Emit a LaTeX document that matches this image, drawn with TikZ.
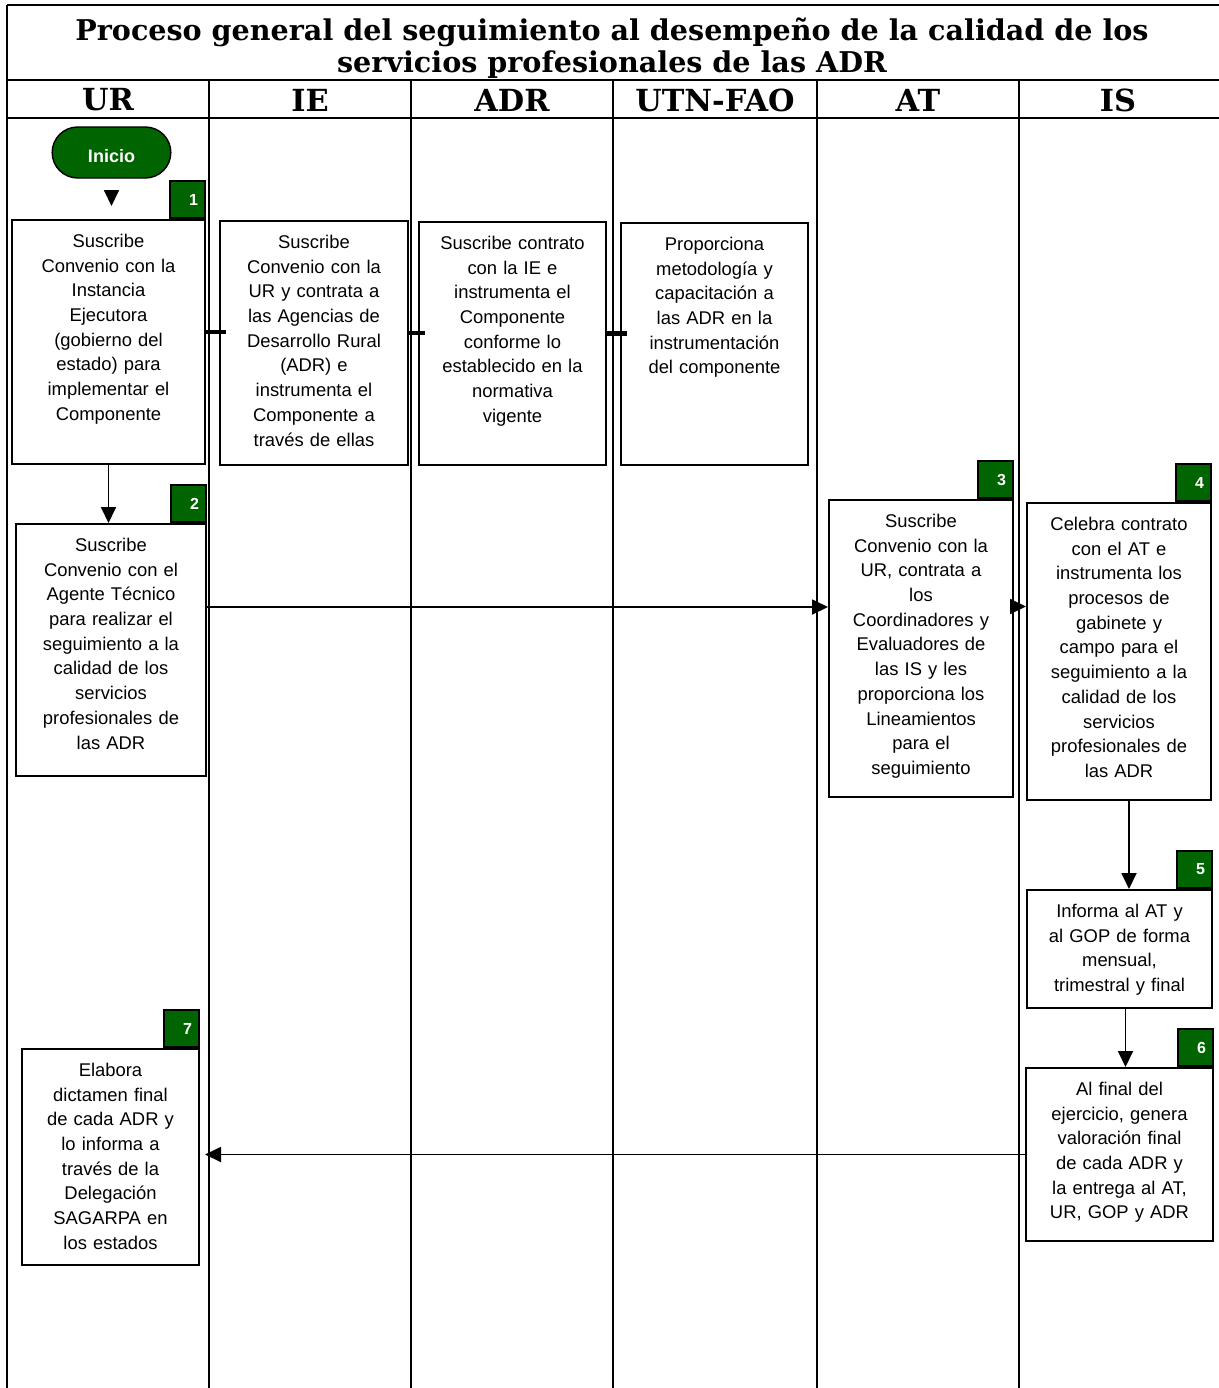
\documentclass[tikz,border=0pt]{standalone}
\usepackage{fontspec}
\setmainfont{Liberation Sans}
\newfontfamily\titlefont{DejaVu Serif}
\usepackage{tikz}
\usetikzlibrary{arrows.meta,positioning,shapes.misc}
\definecolor{verde}{RGB}{0,100,0}

\tikzset{
  lane/.style={line width=1pt},
  stepbox/.style={draw, line width=1pt, anchor=north west, align=center,
    text width=80pt, text height=6.7pt, inner xsep=2pt, inner ysep=7pt,
    font=\fontsize{9.2}{12.35}\selectfont},
  badge/.style={draw, line width=1pt, fill=verde, text=white, anchor=south east,
    minimum width=17.5pt, minimum height=18.5pt, inner sep=0pt,
    text width=10.5pt, align=right, font=\fontsize{8}{9}\selectfont\bfseries},
  flow/.style={line width=0.9pt, -{Triangle[length=8pt,width=7.5pt]}},
  tick/.style={line width=2.2pt, shorten <=-1pt, shorten >=-3.5pt},
  headtext/.style={font=\titlefont\bfseries\fontsize{14.3}{16}\selectfont, align=center},
  lanename/.style={font=\titlefont\bfseries\fontsize{15.2}{17}\selectfont}
}

\begin{document}
\begin{tikzpicture}[x=0.5pt, y=-0.5pt]
  \useasboundingbox (0,0) rectangle (1219,1388);

  % Lanes
  \draw[lane] (7,5) -- (1230,5);
  \draw[lane] (7,80) -- (1230,80);
  \draw[lane] (7,118) -- (1230,118);
  \draw[lane] (7,5) -- (7,1388);
  \foreach \x in {209,411,613,817,1019}
    \draw[lane] (\x,80) -- (\x,1388);

  \node[headtext] (titulo) at (612,48) {Proceso general del seguimiento al desempeño de la calidad de los\\servicios profesionales de las ADR};
  \foreach \x/\t [count=\i] in {108/UR,310/IE,512/ADR,715/UTN-FAO,918/AT,1118/IS}
    \node[lanename] (h\i) at (\x,100) {\t};

  % Nodes
  \node[draw, line width=0.7pt, fill=verde, rounded rectangle, minimum width=66pt,
    minimum height=25.5pt, text height=10pt, text depth=0pt, text=white,
    font=\fontsize{9}{10}\selectfont\bfseries] (inicio) at (111.5,152.5) {Inicio};

  \node[stepbox, minimum width=96.5pt, text depth=101.3pt] (ur1) at (11,219)
    {Suscribe\\Convenio con la\\Instancia\\Ejecutora\\(gobierno del\\estado) para\\implementar el\\Componente};
  \node[stepbox, minimum width=94pt, text depth=101.3pt] (ie1) at (219,220)
    {Suscribe\\Convenio con la\\UR y contrata a\\las Agencias de\\Desarrollo Rural\\(ADR) e\\instrumenta el\\Componente a\\través de ellas};
  \node[stepbox, minimum width=93.5pt, text depth=100.8pt] (adr1) at (418,221)
    {Suscribe contrato\\con la IE e\\instrumenta el\\Componente\\conforme lo\\establecido en la\\normativa\\vigente};
  \node[stepbox, minimum width=93.5pt, text depth=100.3pt] (utn1) at (620,222)
    {Proporciona\\metodología y\\capacitación a\\las ADR en la\\instrumentación\\del componente};
  \node[stepbox, minimum width=95pt, text depth=105.3pt] (ur2) at (15,523)
    {Suscribe\\Convenio con el\\Agente Técnico\\para realizar el\\seguimiento a la\\calidad de los\\servicios\\profesionales de\\las ADR};
  \node[stepbox, minimum width=92pt, text depth=127.8pt] (at3) at (828,499)
    {Suscribe\\Convenio con la\\UR, contrata a\\los\\Coordinadores y\\Evaluadores de\\las IS y les\\proporciona los\\Lineamientos\\para el\\seguimiento};
  \node[stepbox, minimum width=92pt, text depth=127.8pt] (is4) at (1026,502)
    {Celebra contrato\\con el AT e\\instrumenta los\\procesos de\\gabinete y\\campo para el\\seguimiento a la\\calidad de los\\servicios\\profesionales de\\las ADR};
  \node[stepbox, minimum width=92.5pt, text depth=38.3pt] (is5) at (1026,889)
    {Informa al AT y\\al GOP de forma\\mensual,\\trimestral y final};
  \node[stepbox, minimum width=93.5pt, text depth=65.8pt] (is6) at (1025,1067)
    {Al final del\\ejercicio, genera\\valoración final\\de cada ADR y\\la entrega al AT,\\UR, GOP y ADR};
  \node[stepbox, minimum width=88.5pt, text depth=87.3pt] (ur7) at (21,1048)
    {Elabora\\dictamen final\\de cada ADR y\\lo informa a\\través de la\\Delegación\\SAGARPA en\\los estados};

  % Badges
  \node[badge] (n1) at (ur1.north east) {1};
  \node[badge] (n2) at (ur2.north east) {2};
  \node[badge] (n3) at (at3.north east) {3};
  \node[badge] (n4) at (is4.north east) {4};
  \node[badge] (n5) at (is5.north east) {5};
  \node[badge] (n6) at (is6.north east) {6};
  \node[badge] (n7) at (ur7.north east) {7};

  % Connectors
  \draw[flow, shorten <=6pt, shorten >=6.5pt] (inicio.south) -- (inicio.south |- ur1.north);
  \draw[tick] ([yshift=5pt]ur1.east) -- ([yshift=5pt]ur1.east -| ie1.west);
  \draw[tick] ([yshift=5pt]ie1.east) -- ([yshift=5pt]ie1.east -| adr1.west);
  \draw[tick] ([yshift=5pt]adr1.east) -- ([yshift=5pt]adr1.east -| utn1.west);
  \draw[flow] (ur1.south) -- (ur1.south |- ur2.north);
  \draw[flow] ([yshift=21.5pt]ur2.east) coordinate (c23) -- (c23 -| at3.west);
  \draw[flow] ([yshift=21pt]at3.east) coordinate (c34) -- (c34 -| is4.west);
  \draw[flow] ([xshift=5pt]is4.south) -- ([xshift=5pt]is4.south |- is5.north);
  \draw[flow] ([xshift=3pt]is5.south) -- ([xshift=3pt]is5.south |- is6.north);
  \draw[flow, shorten >=2.5pt] (is6.west) -- (is6.west -| ur7.east);
\end{tikzpicture}
\end{document}
